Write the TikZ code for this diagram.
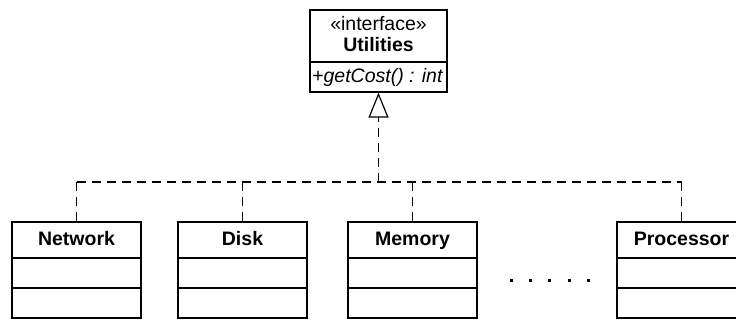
\documentclass[tikz,border=0pt]{standalone}
\usepackage{fontspec}
\setmainfont{Liberation Sans}
\usetikzlibrary{arrows.meta}
\tikzset{
  umltext/.style={inner sep=0pt, text height=14pt, text depth=4pt, font=\fontsize{19.5}{23}\selectfont},
  classbox/.style={draw, line width=1.2pt, minimum width=129pt, minimum height=96pt, inner sep=0pt},
  ifacebox/.style={draw, line width=1.2pt, minimum width=137pt, minimum height=82pt, inner sep=0pt},
  realize/.style={line width=1.2pt, dash pattern=on 9pt off 6pt}
}
\begin{document}
\begin{tikzpicture}[x=1pt,y=-1pt]
\useasboundingbox (0,0) rectangle (736,320);
\clip (0,0) rectangle (736,320);

% interface
\node[ifacebox] (util) at (378.5,51) {};
\draw[line width=1.2pt] (util.west |- 0,62) -- (util.east |- 0,62);
\node[umltext] (util-st) at (378.5,26) {«interface»};
\node[umltext,font=\fontsize{19.5}{23}\selectfont\bfseries] (util-nm) at (378.5,47) {Utilities};
\node[umltext,anchor=west,font=\fontsize{19.5}{23}\selectfont\itshape] (util-op) at (312,78) {+getCost() : int};

% implementing classes
\foreach \nm/\cx/\lbl in {net/76.5/Network, disk/242.5/Disk, mem/412.5/Memory, cpu/681.5/Processor}{
  \node[classbox] (\nm) at (\cx,270) {};
  \node[umltext,font=\fontsize{19.5}{23}\selectfont\bfseries] (\nm-nm) at (\cx,241) {\lbl};
  \draw[line width=1.2pt] (\nm.west |- 0,258) -- (\nm.east |- 0,258);
  \draw[line width=1.2pt] (\nm.west |- 0,288) -- (\nm.east |- 0,288);
}

% realization
\coordinate (bus) at (378.5,182);
\draw[realize] (net.north |- bus) -- (cpu.north |- bus);
\foreach \nm in {net,disk,mem,cpu}{
  \draw[realize] (\nm.north) -- (\nm.north |- bus);
}
\draw[realize,-{Triangle[open,width=20pt,length=25pt,line width=1.2pt]}] (bus) -- (util.south);

% more classes
\foreach \i in {0,...,4}{
  \fill (510+19.2*\i,279) rectangle +(3,3);
}
\end{tikzpicture}
\end{document}
